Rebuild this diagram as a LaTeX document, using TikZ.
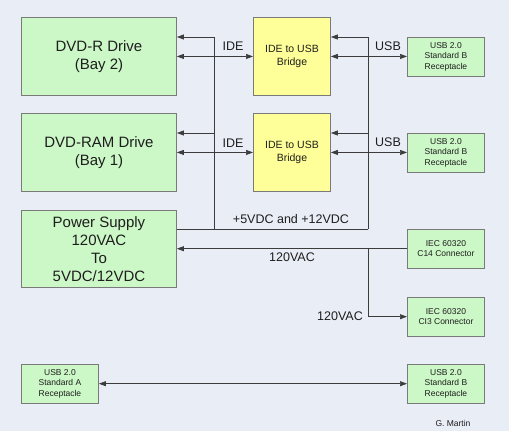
\documentclass[tikz,border=0pt]{standalone}
\usepackage{fontspec}
\setmainfont{Liberation Sans}
\usetikzlibrary{arrows.meta}
\definecolor{bg}{HTML}{E9EDF6}
\definecolor{gfill}{HTML}{CCF7C6}
\definecolor{yfill}{HTML}{FFFF99}
\definecolor{bord}{HTML}{7A7A7A}
\definecolor{ln}{HTML}{3C3C3C}
\definecolor{txt}{HTML}{1E1E1E}
\tikzset{
  box/.style={draw=bord,line width=0.9pt,anchor=north west,inner sep=0pt,align=center,text=txt},
  bigbox/.style={box,fill=gfill,minimum width=155pt,minimum height=78pt,font=\fontsize{15}{18}\selectfont},
  bridge/.style={box,fill=yfill,minimum width=77pt,minimum height=78pt,font=\fontsize{10.5}{12.5}\selectfont},
  smallbox/.style={box,fill=gfill,minimum width=77pt,minimum height=38.5pt,font=\fontsize{8.5}{10.5}\selectfont},
  lbl/.style={text=txt,font=\fontsize{12.5}{14}\selectfont,inner sep=0pt},
  ln/.style={draw=ln,line width=0.7pt},
  arr/.style={ln,-{Triangle[length=7pt,width=5pt]}},
  darr/.style={ln,{Triangle[length=7pt,width=5pt]}-{Triangle[length=7pt,width=5pt]}}
}
\begin{document}
\begin{tikzpicture}[x=1pt,y=-1pt]
\fill[bg] (0,0) rectangle (509,431);
\useasboundingbox (0,0) rectangle (509,431);
% boxes
\node[bigbox] (dvdr) at (21,17) {DVD-R Drive\\(Bay 2)};
\node[bigbox] (dvdram) at (21,113) {DVD-RAM Drive\\(Bay 1)};
\node[bigbox,minimum height=77pt] (ps) at (21,210) {Power Supply\\120VAC\\To\\5VDC/12VDC};
\node[bridge] (br1) at (253,17) {IDE to USB\\Bridge};
\node[bridge] (br2) at (253,113) {IDE to USB\\Bridge};
\node[smallbox] (ub1) at (407,37) {USB 2.0\\Standard B\\Receptacle};
\node[smallbox] (ub2) at (407,133) {USB 2.0\\Standard B\\Receptacle};
\node[smallbox] (c14) at (407,229) {IEC 60320\\C14 Connector};
\node[smallbox] (c13) at (407,297) {IEC 60320\\CI3 Connector};
\node[smallbox] (usba) at (21,364) {USB 2.0\\Standard A\\Receptacle};
\node[smallbox] (usbb) at (407,364) {USB 2.0\\Standard B\\Receptacle};
% coordinates
\coordinate (b1) at (214,229);
\coordinate (b2) at (368,229);
\coordinate (t1) at (214,37);
\coordinate (t2) at (368,37);
\coordinate (m1) at (214,133);
\coordinate (m2) at (368,133);
\coordinate (v1) at (368,249);
% power bus
\draw[ln] (ps.east |- b1) -- (b2);
\draw[arr] (b1) -- (t1) -- (dvdr.east |- t1);
\draw[arr] (m1) -- (dvdram.east |- m1);
\draw[arr] (b2) -- (t2) -- (br1.east |- t2);
\draw[arr] (m2) -- (br2.east |- m2);
% IDE and USB
\draw[darr] (dvdr.east) -- (dvdr.east -| br1.west);
\draw[darr] (dvdram.east) -- (dvdram.east -| br2.west);
\draw[darr] (br1.east) -- (br1.east -| ub1.west);
\draw[darr] (br2.east) -- (br2.east -| ub2.west);
% AC
\draw[arr] (c14.west) -- (c14.west -| ps.east);
\draw[arr] (v1) |- (c13.west);
% USB A-B
\draw[darr] (usba.east) -- (usbb.west);
% labels
\node[lbl] (l1) at (233,46) {IDE};
\node[lbl] (l2) at (233,143) {IDE};
\node[lbl] (l3) at (388,46) {USB};
\node[lbl] (l4) at (388,142) {USB};
\node[lbl] (l5) at (291,219) {+5VDC and +12VDC};
\node[lbl] (l6) at (292,257) {120VAC};
\node[lbl,anchor=east] (l7) at (363,316) {120VAC};
\node[text=txt,font=\fontsize{8.5}{10}\selectfont,inner sep=0pt] (gm) at (453,423) {G. Martin};
\end{tikzpicture}
\end{document}
